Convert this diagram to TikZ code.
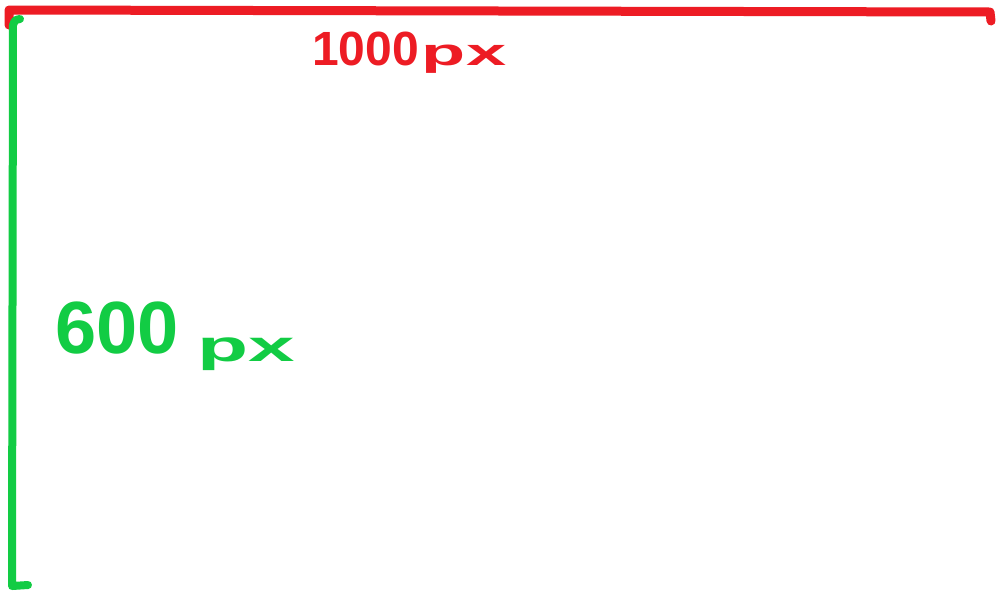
\documentclass[tikz,border=0pt]{standalone}
\usepackage{fontspec}
\setmainfont{Liberation Sans}
\definecolor{penred}{HTML}{ED1C24}
\definecolor{pengreen}{HTML}{12CC44}
\tikzset{
  redpen/.style={draw=penred, line width=9pt, line cap=round, line join=round},
  greenpen/.style={draw=pengreen, line width=8pt, line cap=round, line join=round},
  redlabel/.style={text=penred, font=\bfseries, inner sep=0pt, anchor=base west},
  greenlabel/.style={text=pengreen, font=\bfseries, inner sep=0pt, anchor=base west}
}
\begin{document}
\begin{tikzpicture}[x=1pt,y=-1pt]
\useasboundingbox (0,0) rectangle (1000,600);
\fill[white] (0,0) rectangle (1000,600);
% width ruler (red)
\coordinate (rl) at (9,10);
\coordinate (rr) at (990,12);
\coordinate (rlt) at (9,25);
\coordinate (rrt) at (991,21);
\draw[redpen] (rlt) -- (rl) -- (rr) -- (rrt);
% height ruler (green)
\coordinate (gt) at (13,25);
\coordinate (gh) at (20,19);
\coordinate (gb) at (12,586);
\coordinate (gbt) at (28,585);
\draw[greenpen] (gh) .. controls (15,20) .. (gt) -- (gb) -- (gbt);
% labels
\node[redlabel] (wlabel) at (312,65)
  {\fontsize{48pt}{48pt}\selectfont 1000\kern3pt\fontsize{38pt}{38pt}\selectfont\scalebox{1.9}[1]{px}};
\node[greenlabel] (hlabel) at (55,353)
  {\fontsize{74pt}{74pt}\selectfont 600\kern19pt\raisebox{-8pt}{\fontsize{44pt}{44pt}\selectfont\scalebox{1.9}[1]{px}}};
\end{tikzpicture}
\end{document}
